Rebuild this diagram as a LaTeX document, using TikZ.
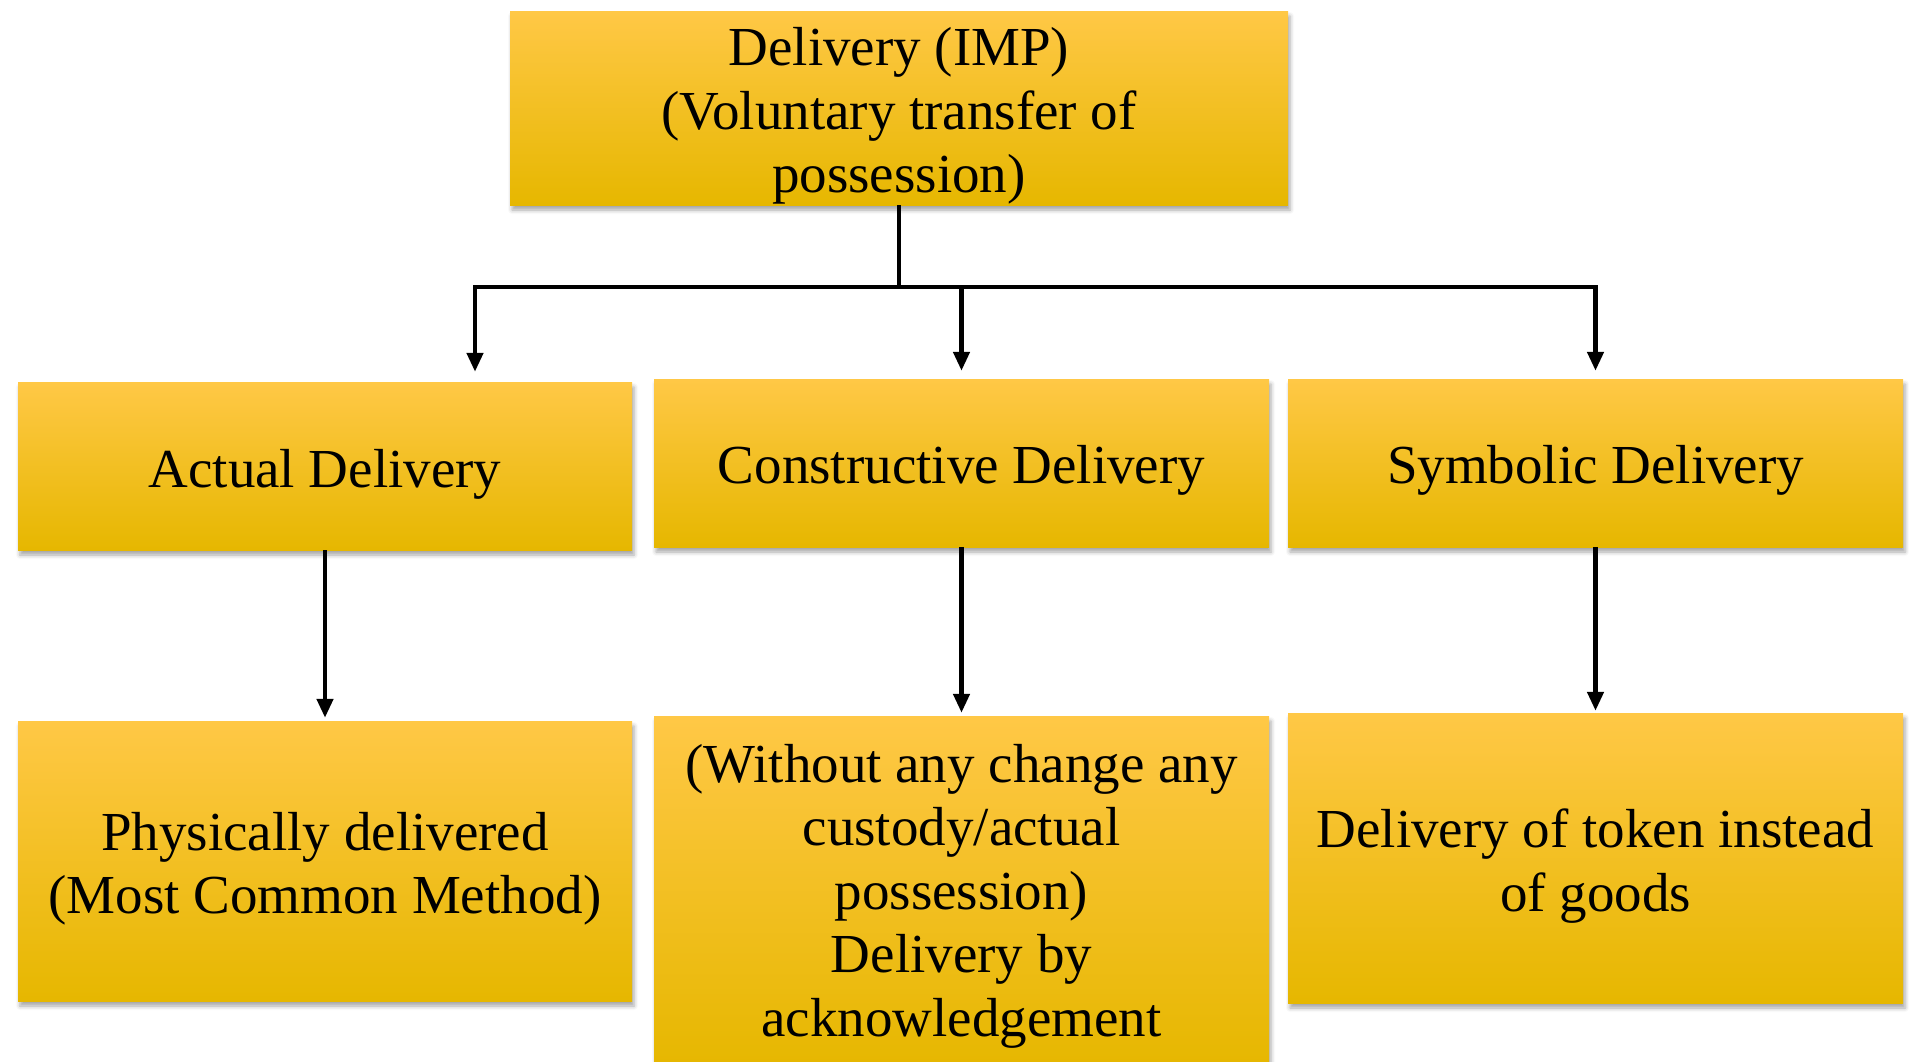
\documentclass[tikz,border=0pt]{standalone}
\usepackage{fontspec}
\setmainfont{Liberation Serif}
\usetikzlibrary{arrows.meta,shadows.blur}

\definecolor{boxtop}{HTML}{FFC846}
\definecolor{boxmid}{HTML}{FFC400}
\definecolor{boxbot}{HTML}{E6B700}

\tikzset{
  goldbox/.style={rectangle, inner sep=0pt,
    top color=boxtop, middle color=boxmid, bottom color=boxbot,
    blur shadow={shadow xshift=2pt, shadow yshift=-5pt, shadow blur radius=4pt,
                 shadow opacity=35}},
  boxtext/.style={inner sep=0pt, align=center,
    font=\fontsize{55}{63.5}\selectfont},
  conn/.style={line width=4.5pt, draw=black},
  arr/.style={conn, -{Triangle[width=16pt,length=19pt]}},
}

\begin{document}
\begin{tikzpicture}[x=1pt,y=-1pt]
\useasboundingbox (0,0) rectangle (1909,1061);

% top level
\node[goldbox, minimum width=778pt, minimum height=194pt] (top) at (899,108) {};
\node[boxtext] (toptext) at ([yshift=-8pt]top.center)
  {Delivery (IMP)\\(Voluntary transfer of\\possession)};

% second row
\node[goldbox, minimum width=614pt, minimum height=168pt] (actual) at (325,466) {};
\node[boxtext] (actualtext) at ([yshift=-8pt]actual.center) {Actual Delivery};
\node[goldbox, minimum width=615pt, minimum height=168pt] (construct) at (961.5,463) {};
\node[boxtext] (constructtext) at ([yshift=-7pt]construct.center) {Constructive Delivery};
\node[goldbox, minimum width=615pt, minimum height=168pt] (symbolic) at (1595.5,463) {};
\node[boxtext] (symbolictext) at ([yshift=-7pt]symbolic.center) {Symbolic Delivery};

% third row
\node[goldbox, minimum width=614pt, minimum height=280pt] (physical) at (325,861) {};
\node[boxtext] (physicaltext) at ([yshift=-8pt]physical.center)
  {Physically delivered\\(Most Common Method)};
\node[goldbox, minimum width=615pt, minimum height=350pt] (ack) at (961.5,891) {};
\node[boxtext] (acktext) at ([yshift=-5pt]ack.center)
  {(Without any change any\\custody/actual\\possession)\\Delivery by\\acknowledgement};
\node[goldbox, minimum width=615pt, minimum height=290pt] (token) at (1595.5,858) {};
\node[boxtext] (tokentext) at ([yshift=-8pt]token.center)
  {Delivery of token instead\\of goods};

% branching connector
\coordinate (busL) at (475,287);
\coordinate (busR) at (1595.5,287);
\draw[conn] (top.south) -- (top.south |- busL);
\draw[conn, line cap=rect] (busL) -- (busR);
\draw[arr, shorten >=10pt] (busL) -- (busL |- actual.north);
\draw[arr, shorten >=8pt] (construct.north |- busL) -- (construct.north);
\draw[arr, shorten >=8pt] (busR) -- (symbolic.north);

% second to third row
\draw[arr, shorten >=3pt] (actual.south) -- (physical.north);
\draw[arr, shorten >=3pt] (construct.south) -- (ack.north);
\draw[arr, shorten >=2pt] (symbolic.south) -- (token.north);
\end{tikzpicture}
\end{document}
